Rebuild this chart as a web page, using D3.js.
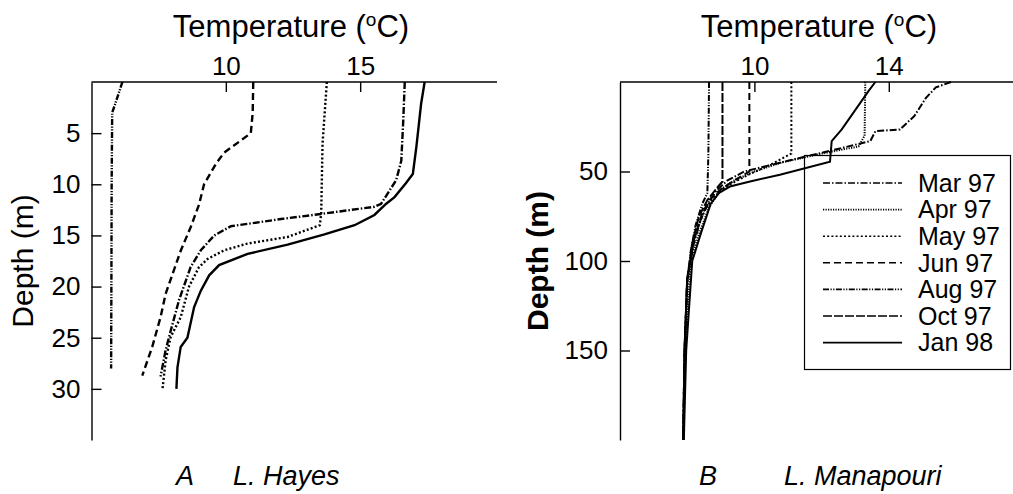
<!DOCTYPE html>
<html><head><meta charset="utf-8">
<script src="https://cdn.jsdelivr.net/npm/d3@7"></script>
<style>
body{margin:0;background:#fff;}
text{font-family:Arial,"Liberation Sans",sans-serif;fill:#000;}
</style></head>
<body><svg id="c" width="1013" height="494"></svg>
<script>
// ---------- DATA ----------
// Lake Hayes profiles: [temperature °C, depth m]
const hayesAug = [[6.15,0],[5.9,2],[5.77,3],[5.75,10],[5.74,20],[5.73,28]];
const hayesJun = [[11.02,0],[11.0,3],[10.93,5],[9.94,6.9],[9.63,8],[9.19,10],[9.0,12],[8.69,14.2],[8.32,16.5],[7.76,20.7],[7.57,23],[7.26,25.9],[6.89,28.7]];
const hayesMay = [[13.76,0],[13.6,6],[13.55,12.8],[13.5,14],[12.3,15.15],[10.8,15.8],[9.94,16.45],[9.32,17.3],[9.0,18.1],[8.63,20],[8.32,23],[7.95,24.9],[7.76,27.2],[7.64,30.1]];
const hayesMar = [[16.66,0],[16.6,4],[16.53,7.7],[16.34,9.6],[15.78,11.9],[15.53,12.2],[13.54,12.9],[12.05,13.4],[10.19,14.1],[9.57,15.0],[9.07,16.45],[8.69,18.1],[8.26,21.3],[7.95,24.3],[7.76,26.2],[7.57,28.8]];
const hayesJan = [[17.4,0],[17.27,2.1],[17.09,6.4],[16.96,9.0],[16.7,9.9],[16.28,11.25],[15.97,11.9],[15.53,13.0],[14.79,14.0],[13.67,14.9],[12.3,15.9],[10.81,16.8],[9.75,17.9],[9.38,18.9],[9.07,20.4],[8.82,22.0],[8.57,25.0],[8.32,25.9],[8.2,27.9],[8.16,30]];

const months = ["Mar 97","Apr 97","May 97","Jun 97","Aug 97","Oct 97","Jan 98"];
// Lake Manapouri profiles: [temperature °C, depth m]
const manaMar = [[15.85,0],[15.4,3],[15.1,9],[14.76,19],[14.33,26.5],[13.6,27.5],[13.45,33],[12.35,38],[11.0,44],[9.7,50],[9.2,55],[8.9,60],[8.65,67],[8.4,77],[8.2,90],[8.0,110],[7.92,150],[7.88,200]];
const manaApr = [[13.3,0],[13.28,30],[13.1,36],[12.0,40],[10.8,45],[10.0,50],[9.4,55],[9.0,60],[8.65,70],[8.35,85],[8.1,100],[7.95,150],[7.88,200]];
const manaMay = [[11.1,0],[11.1,40],[10.5,46],[9.8,52],[9.2,58],[8.8,64],[8.5,72],[8.2,88],[8.0,110],[7.92,150],[7.88,200]];
const manaJun = [[9.85,0],[9.85,50],[9.4,55],[9.0,60],[8.7,65],[8.45,73],[8.2,88],[8.0,110],[7.92,150],[7.88,200]];
const manaAug = [[8.65,0],[8.63,40],[8.6,62],[8.45,68],[8.25,80],[8.1,95],[8.0,115],[7.93,150],[7.88,200]];
const manaOct = [[9.05,0],[9.05,55.6],[8.85,60],[8.6,66],[8.35,75],[8.15,90],[8.0,110],[7.92,150],[7.88,200]];
const manaJan = [[13.6,0],[13.4,5],[12.6,26.5],[12.3,33],[12.25,44.6],[10.76,51.8],[9.87,55.6],[9.27,58.4],[8.95,62],[8.7,68],[8.4,85],[8.15,100],[7.97,150],[7.9,200]];

const ticksTA = [10,15];
const ticksDA = [5,10,15,20,25,30];
const ticksTB = [10,14];
const ticksDB = [50,100,150];

// ---------- STYLE ----------
const dashes = {
  "Mar 97":"7,2,1.5,2",
  "Apr 97":"1.2,1.3",
  "May 97":"2,2.2",
  "Jun 97":"7,4",
  "Aug 97":"6,1.5,1.2,1.5,1.2,1.5",
  "Oct 97":"9,2",
  "Jan 98":null
};
const FONT = "Arial, 'Liberation Sans', sans-serif";
const svg = d3.select("#c");

// legend box (transparent, lines pass over it)
const lg = svg.append("g");
lg.append("rect").attr("x",804.5).attr("y",155.5).attr("width",206).attr("height",214)
  .attr("fill","none").attr("stroke","#000").attr("stroke-width",1.2);
months.forEach((m,i)=>{
  const yy = 183 + i*26.6;
  lg.append("line").attr("x1",823).attr("x2",902).attr("y1",yy).attr("y2",yy)
    .attr("stroke","#000").attr("stroke-width",1.6).attr("stroke-dasharray",dashes[m]);
  lg.append("text").attr("x",918).attr("y",yy).attr("dy","0.35em").attr("font-size",25).text(m);
});

function panel(o){
  const x = d3.scaleLinear().domain(o.tDom).range(o.xr);
  const y = d3.scaleLinear().domain(o.dDom).range([82,440]);
  const g = svg.append("g");
  const ax = g.append("g").attr("transform","translate(0,82)")
    .call(d3.axisTop(x).tickValues(o.tTicks).tickSizeInner(-10).tickSizeOuter(0).tickPadding(7).tickFormat(d3.format("d")));
  const ay = g.append("g").attr("transform",`translate(${o.xr[0]},0)`)
    .call(d3.axisLeft(y).tickValues(o.dTicks).tickSizeInner(-10).tickSizeOuter(0).tickPadding(o.pad).tickFormat(d3.format("d")));
  [ax,ay].forEach(a=>{
    a.selectAll("text").attr("font-size",26).attr("font-family",FONT);
    a.selectAll("line,path").attr("stroke","#000").attr("stroke-width",1.4);
  });
  ax.select(".domain").attr("d",`M${o.xr[0]},0H${o.topEnd}`);
  const line = d3.line().x(d=>x(d[0])).y(d=>y(d[1]));
  o.series.forEach(s=>{
    g.append("path").datum(s.data).attr("d",line).attr("fill","none")
      .attr("stroke","#000").attr("stroke-width",o.lw)
      .attr("stroke-dasharray",dashes[s.name]);
  });
  const t = g.append("text").attr("x",o.titleX).attr("y",37).attr("text-anchor","middle").attr("font-size",31);
  t.append("tspan").text("Temperature (");
  t.append("tspan").attr("font-size",19).attr("dy",-11).text("o");
  t.append("tspan").attr("dy",11).text("C)");
  g.append("text").attr("transform",`translate(${o.yTitleX},261) rotate(-90)`)
    .attr("text-anchor","middle").attr("font-size",30).attr("font-weight",o.bold?"bold":"normal").text("Depth (m)");
  g.append("text").attr("x",o.capX[0]).attr("y",485).attr("font-size",27).attr("font-style","italic").text(o.cap[0]);
  g.append("text").attr("x",o.capX[1]).attr("y",485).attr("font-size",27).attr("font-style","italic").text(o.cap[1]);
}

panel({
  tDom:[5,20], xr:[91.5,494.5], topEnd:497, dDom:[0,35], tTicks:ticksTA, dTicks:ticksDA, pad:11, lw:2.4,
  titleX:291, yTitleX:33, bold:false, capX:[176,233], cap:["A","L. Hayes"],
  series:[
    {name:"Aug 97",data:hayesAug},{name:"Jun 97",data:hayesJun},{name:"May 97",data:hayesMay},
    {name:"Mar 97",data:hayesMar},{name:"Jan 98",data:hayesJan}]
});

panel({
  tDom:[6,18], xr:[620,1023.2], topEnd:1023, dDom:[0,200], tTicks:ticksTB, dTicks:ticksDB, pad:12, lw:2,
  titleX:819, yTitleX:548, bold:true, capX:[699,784], cap:["B","L. Manapouri"],
  series:[
    {name:"Mar 97",data:manaMar},{name:"Apr 97",data:manaApr},{name:"May 97",data:manaMay},
    {name:"Jun 97",data:manaJun},{name:"Aug 97",data:manaAug},{name:"Oct 97",data:manaOct},
    {name:"Jan 98",data:manaJan}]
});
</script></body></html>
